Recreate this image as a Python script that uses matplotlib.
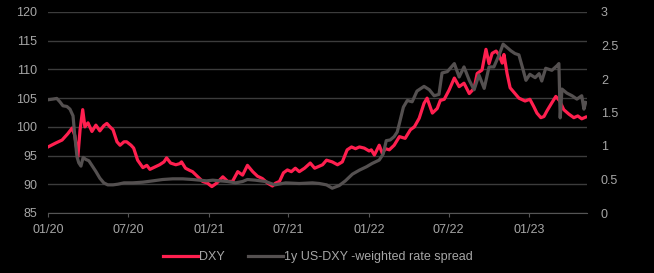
import pandas as pd
import matplotlib.pyplot as plt
import matplotlib.dates as mdates

# DXY index (left axis)
dxy_dates = [
    "2020-01-01", "2020-01-19", "2020-02-02", "2020-02-15", "2020-02-25", "2020-03-02",
    "2020-03-09", "2020-03-14", "2020-03-20", "2020-03-25", "2020-04-01", "2020-04-10",
    "2020-04-19", "2020-04-28", "2020-05-07", "2020-05-14", "2020-05-21", "2020-05-28",
    "2020-06-06", "2020-06-13", "2020-06-22", "2020-06-28", "2020-07-08", "2020-07-14",
    "2020-07-23", "2020-08-04", "2020-08-13", "2020-08-20", "2020-08-31", "2020-09-11",
    "2020-09-21", "2020-09-27", "2020-10-06", "2020-10-18", "2020-10-27", "2020-10-31",
    "2020-11-09", "2020-11-19", "2020-11-25", "2020-12-07", "2020-12-18", "2020-12-29",
    "2021-01-08", "2021-01-19", "2021-02-02", "2021-02-13", "2021-02-24", "2021-03-08",
    "2021-03-19", "2021-03-30", "2021-04-11", "2021-04-22", "2021-05-03", "2021-05-15",
    "2021-05-26", "2021-06-02", "2021-06-11", "2021-06-20", "2021-06-29", "2021-07-08",
    "2021-07-17", "2021-07-26", "2021-08-07", "2021-08-20", "2021-08-30", "2021-09-08",
    "2021-09-17", "2021-09-26", "2021-10-09", "2021-10-21", "2021-11-01", "2021-11-12",
    "2021-11-22", "2021-12-01", "2021-12-10", "2021-12-21", "2022-01-01", "2022-01-06",
    "2022-01-13", "2022-01-24", "2022-01-31", "2022-02-07", "2022-02-16", "2022-02-27",
    "2022-03-11", "2022-03-24", "2022-04-05", "2022-04-14", "2022-04-25", "2022-05-06",
    "2022-05-13", "2022-05-25", "2022-06-05", "2022-06-12", "2022-06-21", "2022-07-02",
    "2022-07-14", "2022-07-25", "2022-08-05", "2022-08-17", "2022-08-28", "2022-09-04",
    "2022-09-15", "2022-09-24", "2022-10-01", "2022-10-08", "2022-10-17", "2022-10-24",
    "2022-10-31", "2022-11-04", "2022-11-11", "2022-11-18", "2022-11-29", "2022-12-08",
    "2022-12-22", "2023-01-02", "2023-01-11", "2023-01-18", "2023-01-27", "2023-02-03",
    "2023-02-10", "2023-02-21", "2023-03-02", "2023-03-11", "2023-03-20", "2023-04-01",
    "2023-04-12", "2023-04-21", "2023-04-30", "2023-05-09",
]
dxy_values = [
    96.5, 97.2, 97.7, 98.8, 99.8, 98.5,
    94.8, 99.5, 103.0, 100.0, 100.7, 99.2,
    100.3, 99.3, 100.2, 100.6, 100.0, 99.5,
    97.4, 96.8, 97.4, 97.4, 96.8, 96.3,
    94.2, 92.9, 93.3, 92.6, 93.0, 93.4,
    93.9, 94.6, 93.7, 93.4, 93.6, 93.9,
    92.8, 92.4, 92.2, 91.3, 90.5, 90.2,
    89.6, 90.2, 91.3, 90.5, 90.5, 92.2,
    91.6, 93.3, 92.2, 91.4, 91.0, 90.2,
    89.7, 90.2, 90.5, 92.0, 92.5, 92.2,
    92.8, 92.2, 92.8, 93.7, 92.8, 93.1,
    93.4, 94.2, 93.9, 93.4, 93.9, 96.0,
    96.5, 96.2, 96.5, 96.3, 95.8, 96.0,
    95.1, 96.8, 95.4, 96.2, 96.0, 96.8,
    98.3, 98.0, 99.5, 100.0, 101.5, 104.1,
    105.0, 102.4, 103.2, 104.6, 104.8, 106.4,
    108.5, 107.0, 107.6, 105.8, 106.7, 109.3,
    109.9, 113.5, 111.0, 112.8, 113.2, 112.5,
    111.1, 112.6, 109.3, 106.8, 105.8, 105.0,
    104.5, 104.8, 103.5, 102.4, 101.6, 101.8,
    102.8, 104.2, 105.3, 104.5, 103.0, 102.2,
    101.6, 101.9, 101.4, 101.7,
]

# 1y US-DXY-weighted rate spread (right axis)
spread_dates = [
    "2020-01-01", "2020-01-12", "2020-01-21", "2020-01-28", "2020-02-04", "2020-02-13",
    "2020-02-20", "2020-02-27", "2020-03-02", "2020-03-07", "2020-03-11", "2020-03-16",
    "2020-03-21", "2020-03-27", "2020-04-03", "2020-04-10", "2020-04-19", "2020-04-28",
    "2020-05-07", "2020-05-16", "2020-05-28", "2020-06-08", "2020-06-22", "2020-07-12",
    "2020-08-04", "2020-08-27", "2020-09-18", "2020-10-11", "2020-11-03", "2020-11-25",
    "2020-12-11", "2020-12-27", "2021-01-10", "2021-01-26", "2021-02-13", "2021-03-03",
    "2021-03-19", "2021-03-30", "2021-04-17", "2021-05-10", "2021-05-31", "2021-06-25",
    "2021-07-26", "2021-08-25", "2021-09-10", "2021-09-26", "2021-10-09", "2021-10-25",
    "2021-11-08", "2021-11-24", "2021-12-10", "2021-12-26", "2022-01-08", "2022-01-24",
    "2022-02-02", "2022-02-09", "2022-02-18", "2022-02-27", "2022-03-06", "2022-03-11",
    "2022-03-20", "2022-03-29", "2022-04-09", "2022-04-20", "2022-05-06", "2022-05-18",
    "2022-05-29", "2022-06-09", "2022-06-16", "2022-06-28", "2022-07-14", "2022-07-25",
    "2022-08-05", "2022-08-17", "2022-08-28", "2022-09-08", "2022-09-20", "2022-10-01",
    "2022-10-12", "2022-10-24", "2022-11-02", "2022-11-11", "2022-11-20", "2022-11-29",
    "2022-12-08", "2022-12-17", "2022-12-24", "2023-01-02", "2023-01-14", "2023-01-23",
    "2023-01-29", "2023-02-07", "2023-02-21", "2023-03-05", "2023-03-09", "2023-03-12",
    "2023-03-16", "2023-03-27", "2023-04-08", "2023-04-19", "2023-04-30", "2023-05-05",
    "2023-05-09",
]
spread_values = [
    1.69, 1.70, 1.71, 1.66, 1.60, 1.59,
    1.55, 1.45, 1.15, 0.84, 0.75, 0.70,
    0.83, 0.80, 0.78, 0.71, 0.62, 0.52,
    0.45, 0.42, 0.42, 0.43, 0.45, 0.45,
    0.46, 0.48, 0.50, 0.51, 0.51, 0.50,
    0.49, 0.48, 0.49, 0.48, 0.47, 0.45,
    0.47, 0.50, 0.49, 0.47, 0.42, 0.45,
    0.44, 0.45, 0.44, 0.42, 0.37, 0.41,
    0.48, 0.58, 0.64, 0.69, 0.74, 0.79,
    0.88, 1.08, 1.09, 1.14, 1.21, 1.34,
    1.58, 1.68, 1.66, 1.82, 1.89, 1.84,
    1.75, 1.77, 2.09, 2.11, 2.23, 2.03,
    2.18, 1.98, 1.84, 2.06, 1.86, 2.18,
    2.18, 2.36, 2.52, 2.47, 2.42, 2.38,
    2.36, 2.15, 1.98, 2.07, 2.02, 2.08,
    1.97, 2.16, 2.13, 2.20, 2.23, 1.42,
    1.85, 1.79, 1.75, 1.70, 1.75, 1.55,
    1.65,
]

x_ticks = ["2020-01-01", "2020-07-01", "2021-01-01", "2021-07-01",
           "2022-01-01", "2022-07-01", "2023-01-01"]

red = "#ff1f4f"
grey_line = "#545050"
txt = "#a6a6a6"
grid = "#3c3c3c"

plt.rcParams['font.family'] = ['Liberation Sans', 'DejaVu Sans']

fig = plt.figure(figsize=(6.54, 2.73), dpi=100, facecolor="black")
ax = fig.add_axes([48 / 654, 1 - 213 / 273, (587 - 48) / 654, 201 / 273])
ax.set_facecolor("black")
ax2 = ax.twinx()

l1, = ax.plot(pd.to_datetime(dxy_dates), dxy_values, color=red, lw=2.3, label="DXY")
l2, = ax2.plot(pd.to_datetime(spread_dates), spread_values, color=grey_line, lw=2.3,
               label="1y US-DXY -weighted rate spread")

ax.set_xlim(pd.Timestamp("2020-01-01"), pd.Timestamp("2023-05-12"))
ax.set_ylim(85, 120)
ax.set_yticks(range(85, 121, 5))
ax2.set_ylim(0, 3)
ax2.set_yticks([0, 0.5, 1, 1.5, 2, 2.5, 3])
ax2.set_yticklabels(["0", "0.5", "1", "1.5", "2", "2.5", "3"])

ax.set_xticks(pd.to_datetime(x_ticks))
ax.xaxis.set_major_formatter(mdates.DateFormatter("%m/%y"))

ax.grid(True, axis="y", color=grid, lw=1.0)
ax.set_axisbelow(True)

for a in (ax, ax2):
    for s in a.spines.values():
        s.set_visible(False)
ax.spines["bottom"].set_visible(True)
ax.spines["bottom"].set_color("#555555")

ax.tick_params(axis="y", length=0, pad=8, labelsize=9, labelcolor=txt)
ax2.tick_params(axis="y", length=0, pad=10, labelsize=9, labelcolor=txt)
ax.tick_params(axis="x", length=3, color="#555555", pad=5, labelsize=9, labelcolor=txt)

fig.legend(handles=[l1, l2], loc="center", bbox_to_anchor=(318 / 654, 16 / 273),
           ncol=2, frameon=False, fontsize=9, labelcolor=txt,
           handlelength=2.8, handletextpad=0.1, columnspacing=1.8)

fig.savefig("out.png", dpi=100, facecolor="black")
